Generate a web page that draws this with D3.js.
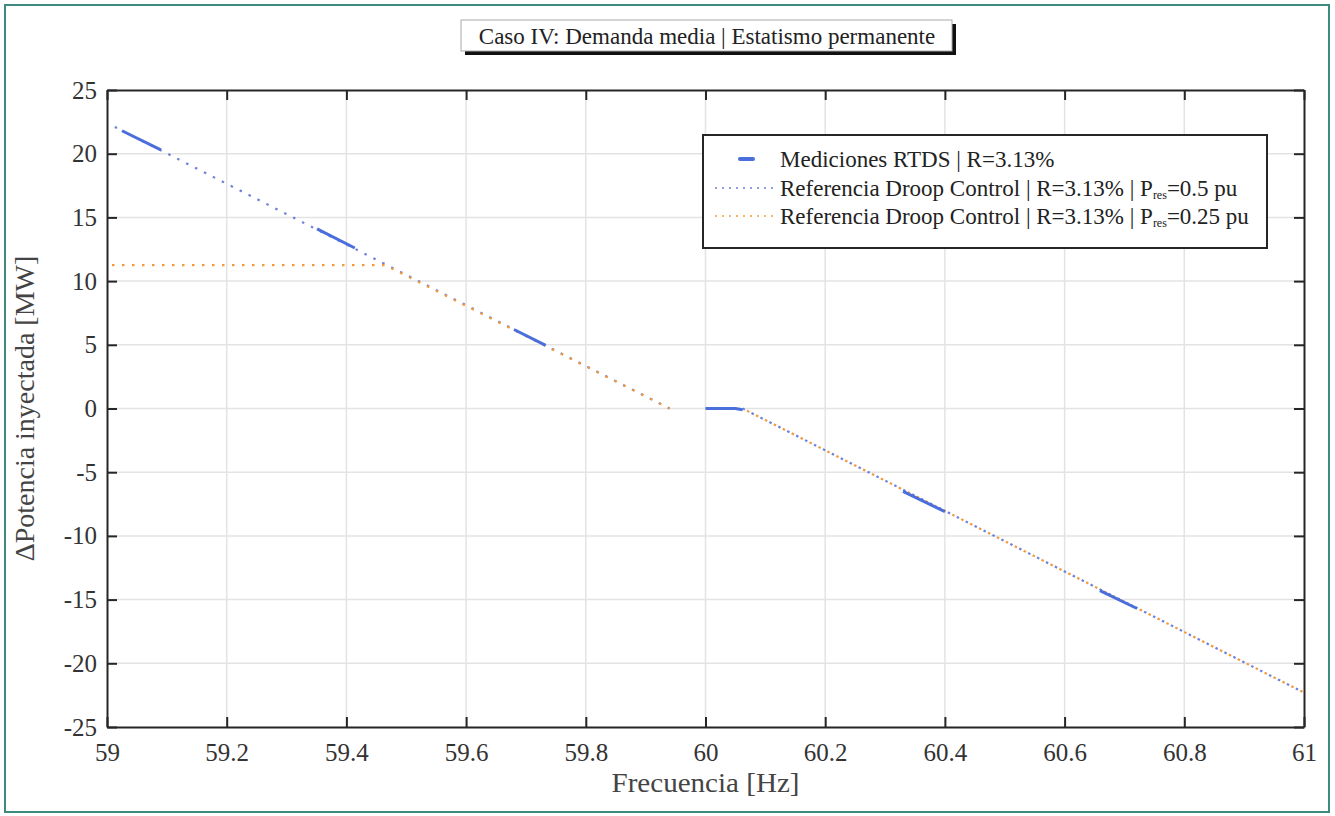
<!DOCTYPE html>
<html><head><meta charset="utf-8">
<script src="https://cdn.jsdelivr.net/npm/d3@7"></script>
<style>body{margin:0;background:#fff;}svg{display:block;}svg text{font-family:"Liberation Serif","Times New Roman",serif;}</style>
</head><body><svg id="c" width="1335" height="816"></svg>
<script>
// ---- data ----
const xTicks = [59, 59.2, 59.4, 59.6, 59.8, 60, 60.2, 60.4, 60.6, 60.8, 61];
const xTickLabels = ["59","59.2","59.4","59.6","59.8","60","60.2","60.4","60.6","60.8","61"];
const yTicks = [25, 20, 15, 10, 5, 0, -5, -10, -15, -20, -25];
const yTickLabels = ["25","20","15","10","5","0","-5","-10","-15","-20","-25"];
// Reference droop Pres = 0.5 pu (two branches around deadband)
const ref05Left = [[59.013, 22.1], [59.94, 0]];
const ref05Right = [[60.062, 0], [61, -22.3]];
// Reference droop Pres = 0.25 pu
const ref025Left = [[59.0, 11.25], [59.465, 11.25], [59.94, 0]];
const ref025Right = [[60.062, 0], [61, -22.3]];
// Measured RTDS segments
const meas = [
  [[59.025, 21.8], [59.09, 20.3]],
  [[59.351, 14.1], [59.414, 12.6]],
  [[59.68, 6.2], [59.733, 4.95]],
  [[60.0, 0], [60.05, 0], [60.062, -0.1]],
  [[60.33, -6.5], [60.40, -8.1]],
  [[60.659, -14.3], [60.721, -15.7]]
];
const title = "Caso IV: Demanda media | Estatismo permanente";
const legendItems = ["Mediciones RTDS | R=3.13%", "Referencia Droop Control | R=3.13% | P", "Referencia Droop Control | R=3.13% | P"];
const legendTails = ["", "=0.5 pu", "=0.25 pu"];

// ---- drawing ----
const svg = d3.select("#c");
const L = 107, R = 1304, T = 90, B = 727;
const x = d3.scaleLinear().domain([59, 61]).range([L, R]);
const y = d3.scaleLinear().domain([-25, 25]).range([B, T]);
const cMeas = "#4a6edb", cRef = "#6f80d8", cOr = "#f39a3c";
const FONT = '"Liberation Serif","Times New Roman",serif';

// outer frame
svg.append("rect").attr("x", 5).attr("y", 5).attr("width", 1324).attr("height", 807)
  .attr("fill", "none").attr("stroke", "#3f8a7f").attr("stroke-width", 2);

// grid
const g = svg.append("g");
g.selectAll(".gx").data(xTicks.slice(1, -1)).join("line")
  .attr("x1", d => x(d)).attr("x2", d => x(d)).attr("y1", T).attr("y2", B)
  .attr("stroke", "#e3e3e3").attr("stroke-width", 1.5);
g.selectAll(".gy").data(yTicks.slice(1, -1)).join("line")
  .attr("y1", d => y(d)).attr("y2", d => y(d)).attr("x1", L).attr("x2", R)
  .attr("stroke", "#e3e3e3").attr("stroke-width", 1.5);

const line = d3.line().x(d => x(d[0])).y(d => y(d[1]));
svg.append("clipPath").attr("id", "pc").append("rect")
  .attr("x", L).attr("y", T).attr("width", R - L).attr("height", B - T);
const pg = svg.append("g").attr("clip-path", "url(#pc)");

// reference lines
[ref05Left, ref05Right].forEach(s => pg.append("path").attr("d", line(s))
  .attr("fill", "none").attr("stroke", cRef).attr("stroke-width", 2.2).attr("stroke-dasharray", "2.5,7.5"));
[ref025Left, ref025Right].forEach(s => pg.append("path").attr("d", line(s))
  .attr("fill", "none").attr("stroke", cOr).attr("stroke-width", 2.2).attr("stroke-dasharray", "2.5,7.5")
  .attr("stroke-dashoffset", 5));
// measured
meas.forEach(s => pg.append("path").attr("d", line(s))
  .attr("fill", "none").attr("stroke", cMeas).attr("stroke-width", 3));

// axes
const axB = d3.axisBottom(x).tickValues(xTicks).tickFormat((d, i) => xTickLabels[i]).tickSizeInner(-10).tickSizeOuter(0).tickPadding(16);
const axT = d3.axisTop(x).tickValues(xTicks).tickFormat("").tickSizeInner(-10).tickSizeOuter(0);
const axLft = d3.axisLeft(y).tickValues(yTicks).tickFormat((d, i) => yTickLabels[i]).tickSizeInner(-10).tickSizeOuter(0).tickPadding(10);
const axRt = d3.axisRight(y).tickValues(yTicks).tickFormat("").tickSizeInner(-10).tickSizeOuter(0);
function styleAxis(sel) {
  sel.attr("font-family", FONT).attr("font-size", 25);
  sel.selectAll("path").attr("stroke", "#262626").attr("stroke-width", 2);
  sel.selectAll("line").attr("stroke", "#262626").attr("stroke-width", 2);
  sel.selectAll("text").attr("fill", "#333");
}
styleAxis(svg.append("g").attr("transform", `translate(0,${B})`).call(axB));
styleAxis(svg.append("g").attr("transform", `translate(0,${T})`).call(axT));
styleAxis(svg.append("g").attr("transform", `translate(${L},0)`).call(axLft));
styleAxis(svg.append("g").attr("transform", `translate(${R},0)`).call(axRt));

// axis labels
svg.append("text").attr("x", (L + R) / 2).attr("y", 792).attr("text-anchor", "middle")
  .attr("font-size", 27).attr("fill", "#444").attr("textLength", 188).attr("lengthAdjust", "spacingAndGlyphs")
  .text("Frecuencia [Hz]");
svg.append("text").attr("transform", `translate(34,${(T + B) / 2}) rotate(-90)`).attr("text-anchor", "middle")
  .attr("font-size", 28).attr("fill", "#444").text("ΔPotencia inyectada [MW]");

// title box
svg.append("rect").attr("x", 465).attr("y", 24).attr("width", 491).attr("height", 31).attr("fill", "#111");
svg.append("rect").attr("x", 461).attr("y", 20).attr("width", 491).attr("height", 31)
  .attr("fill", "#fff").attr("stroke", "#aaa").attr("stroke-width", 1);
svg.append("text").attr("x", 707).attr("y", 44).attr("text-anchor", "middle")
  .attr("font-size", 23).attr("fill", "#222").text(title);

// legend
const lg = svg.append("g");
lg.append("rect").attr("x", 703).attr("y", 135).attr("width", 564).attr("height", 113)
  .attr("fill", "#fff").attr("stroke", "#262626").attr("stroke-width", 2);
const rowsY = [162, 191, 219];
lg.append("line").attr("x1", 740).attr("x2", 753).attr("y1", rowsY[0] - 3).attr("y2", rowsY[0] - 3)
  .attr("stroke", cMeas).attr("stroke-width", 4).attr("stroke-linecap", "round");
lg.append("line").attr("x1", 715).attr("x2", 778).attr("y1", rowsY[1] - 3).attr("y2", rowsY[1] - 3)
  .attr("stroke", cRef).attr("stroke-width", 1.5).attr("stroke-dasharray", "2,5");
lg.append("line").attr("x1", 715).attr("x2", 778).attr("y1", rowsY[2] - 3).attr("y2", rowsY[2] - 3)
  .attr("stroke", cOr).attr("stroke-width", 1.5).attr("stroke-dasharray", "2,5");
legendItems.forEach((t, i) => {
  const tx = lg.append("text").attr("x", 780).attr("y", rowsY[i] + 5).attr("font-size", 23).attr("fill", "#222");
  tx.append("tspan").text(t);
  if (legendTails[i]) {
    tx.append("tspan").attr("dy", 3).attr("font-size", 12).text("res");
    tx.append("tspan").attr("dy", -3).text(legendTails[i]);
  }
});
</script></body></html>
